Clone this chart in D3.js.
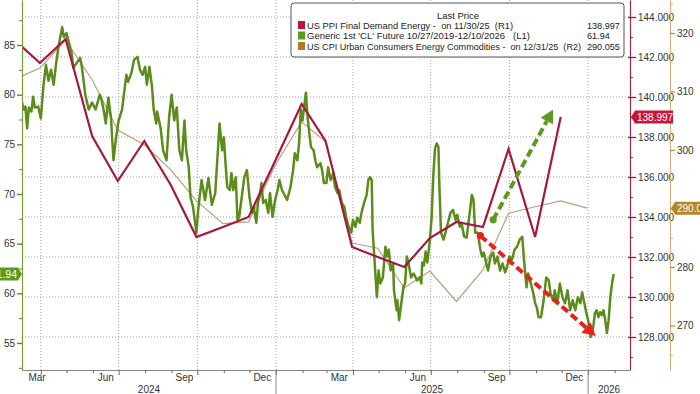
<!DOCTYPE html>
<html><head><meta charset="utf-8">
<script src="https://cdn.jsdelivr.net/npm/d3@7"></script>
<style>
body{margin:0;background:#fff;overflow:hidden}
svg{display:block;font-family:"Liberation Sans Narrow","Liberation Sans",Arial,sans-serif}
.lg text{font-family:"Liberation Sans",Arial,sans-serif}
</style></head><body>
<svg id="c" width="700" height="394"></svg>
<script>
// ---------------- DATA ----------------
const clDates = ["2024-03-10","2024-03-12","2024-03-14","2024-03-16","2024-03-18","2024-03-21","2024-03-23","2024-03-25","2024-03-29","2024-04-01",
"2024-04-04","2024-04-07","2024-04-10","2024-04-13","2024-04-16","2024-04-19","2024-04-22","2024-04-26","2024-04-28","2024-05-01",
"2024-05-04","2024-05-07","2024-05-09","2024-05-13","2024-05-17","2024-05-19","2024-05-23","2024-05-27","2024-05-31","2024-06-04",
"2024-06-09","2024-06-11","2024-06-14","2024-06-16","2024-06-19","2024-06-22","2024-06-25","2024-06-28","2024-07-01","2024-07-05",
"2024-07-10","2024-07-12","2024-07-16","2024-07-19","2024-07-23","2024-07-26","2024-07-29","2024-08-01","2024-08-03","2024-08-06",
"2024-08-09","2024-08-11","2024-08-14","2024-08-15","2024-08-19","2024-08-22","2024-08-26","2024-08-29","2024-09-01","2024-09-04",
"2024-09-07","2024-09-10","2024-09-13","2024-09-16","2024-09-18","2024-09-21","2024-09-23","2024-09-26","2024-09-30","2024-10-02",
"2024-10-06","2024-10-10","2024-10-14","2024-10-18","2024-10-22","2024-10-27","2024-10-30","2024-11-01","2024-11-03","2024-11-05",
"2024-11-08","2024-11-10","2024-11-12","2024-11-15","2024-11-17","2024-11-19","2024-11-22","2024-11-25","2024-11-28","2024-12-01",
"2024-12-04","2024-12-06","2024-12-09","2024-12-11","2024-12-13","2024-12-15","2024-12-17","2024-12-20","2024-12-23","2024-12-25",
"2024-12-28","2024-12-31","2025-01-03","2025-01-05","2025-01-08","2025-01-11","2025-01-14","2025-01-18","2025-01-21","2025-01-23",
"2025-01-26","2025-01-28","2025-01-30","2025-02-01","2025-02-03","2025-02-05","2025-02-07","2025-02-09","2025-02-11","2025-02-14",
"2025-02-16","2025-02-18","2025-02-22","2025-02-24","2025-02-26","2025-03-01","2025-03-03","2025-03-06","2025-03-09","2025-03-11",
"2025-03-14","2025-03-16","2025-03-19","2025-03-22","2025-03-24","2025-03-27","2025-03-30","2025-04-01","2025-04-04","2025-04-06",
"2025-04-09","2025-04-11","2025-04-14","2025-04-17","2025-04-19","2025-04-21","2025-04-23","2025-04-24","2025-04-27","2025-04-29",
"2025-05-01","2025-05-03","2025-05-06","2025-05-09","2025-05-11","2025-05-13","2025-05-15","2025-05-18","2025-05-19","2025-05-22",
"2025-05-23","2025-05-25","2025-05-27","2025-05-30","2025-06-01","2025-06-03","2025-06-05","2025-06-08","2025-06-11","2025-06-15",
"2025-06-18","2025-06-20","2025-06-21","2025-06-23","2025-06-25","2025-06-27","2025-06-30","2025-07-02","2025-07-04","2025-07-06",
"2025-07-08","2025-07-10","2025-07-11","2025-07-13","2025-07-16","2025-07-20","2025-07-24","2025-07-27","2025-07-30","2025-08-01",
"2025-08-04","2025-08-06","2025-08-09","2025-08-12","2025-08-15","2025-08-18","2025-08-20","2025-08-22","2025-08-25","2025-08-28",
"2025-08-30","2025-09-01","2025-09-04","2025-09-06","2025-09-09","2025-09-12","2025-09-14","2025-09-17","2025-09-20","2025-09-23",
"2025-09-26","2025-09-28","2025-10-01","2025-10-04","2025-10-07","2025-10-10","2025-10-13","2025-10-16","2025-10-18","2025-10-21",
"2025-10-23","2025-10-26","2025-10-29","2025-10-31","2025-11-02","2025-11-04","2025-11-07","2025-11-10","2025-11-13","2025-11-16",
"2025-11-18","2025-11-21","2025-11-23","2025-11-26","2025-11-29","2025-12-02","2025-12-05","2025-12-08","2025-12-11","2025-12-14",
"2025-12-17","2025-12-20","2025-12-23","2025-12-25","2025-12-27","2025-12-30","2026-01-01","2026-01-04","2026-01-07","2026-01-09",
"2026-01-11","2026-01-13","2026-01-15","2026-01-17","2026-01-19","2026-01-21","2026-01-23","2026-01-25","2026-01-27","2026-01-29",
"2026-01-31"];
const clValues = [79.2,78.5,78.8,76.6,78.7,78.3,79.8,78.7,78.8,77.6,
80.8,83.0,81.4,82.5,81.0,83.2,85.0,86.8,85.8,86.2,
85.2,84.2,82.7,83.2,83.7,82.8,80.0,78.5,79.2,78.5,
80.0,79.5,78.2,77.1,79.7,77.7,73.4,75.7,77.4,78.5,
82.0,81.3,82.2,83.5,83.8,82.5,82.0,82.8,81.0,82.8,
80.8,78.5,77.1,78.3,76.7,74.4,73.4,77.7,80.0,77.4,
78.7,74.4,73.4,77.4,74.4,72.7,69.7,68.7,66.1,68.4,
71.4,69.4,71.6,68.9,70.1,77.1,74.4,75.7,73.1,70.7,
70.4,72.1,70.4,71.7,67.4,67.7,69.7,71.7,72.4,69.7,
68.1,68.7,67.1,69.1,69.9,71.1,69.1,69.4,68.1,70.1,
67.7,69.4,70.4,71.4,70.4,69.9,69.4,70.7,72.4,74.1,
73.4,75.1,78.5,77.4,78.8,80.2,77.7,76.1,74.7,74.4,
73.4,72.7,73.1,72.4,71.1,71.1,72.7,71.4,72.1,70.7,
70.1,70.4,69.1,68.7,67.7,66.7,66.1,67.4,66.7,67.6,
67.1,68.1,69.1,69.9,71.4,71.7,71.4,66.4,62.3,59.6,
62.3,61.0,61.6,64.7,63.7,64.4,62.3,63.0,60.3,58.3,
59.3,57.3,58.6,60.6,61.0,63.7,63.0,61.6,62.0,61.3,
61.6,61.0,63.1,62.8,64.2,63.1,65.4,67.6,71.9,74.6,
75.1,74.7,71.1,66.1,65.4,66.7,68.1,68.4,67.4,67.9,
66.7,67.1,65.7,65.6,67.7,69.9,69.4,66.1,66.1,64.4,
63.7,64.1,63.0,62.3,63.7,64.1,63.0,63.7,62.3,63.0,
62.1,62.6,63.7,63.4,64.4,64.7,65.4,65.7,63.4,60.6,
62.0,61.0,60.0,59.0,58.6,57.6,57.6,59.3,61.6,61.3,
60.0,59.3,60.3,59.0,61.0,59.6,59.0,60.3,58.3,59.3,
58.3,59.6,59.0,60.1,59.3,58.0,57.3,55.6,56.6,58.0,
58.3,57.6,58.1,57.8,58.3,57.3,56.0,57.3,59.6,61.0,
61.94];

const ppiDates = ["2024-02-29","2024-03-31","2024-04-30","2024-05-31","2024-06-30","2024-07-31","2024-08-31","2024-09-30","2024-10-31","2024-11-30","2024-12-31",
"2025-01-31","2025-02-28","2025-03-31","2025-04-30","2025-05-31","2025-06-30","2025-07-31","2025-08-31","2025-09-30","2025-10-31","2025-11-30"];
const ppiValues = [142.9,141.7,142.9,138.05,135.8,137.8,135.6,133.0,133.5,134.0,136.8,
139.65,137.8,132.5,132.0,131.5,132.95,133.75,133.5,137.4,133.0,138.997];

const cpiDates = ["2024-02-29","2024-03-31","2024-04-30","2024-05-31","2024-06-30","2024-07-31","2024-08-31","2024-09-30","2024-10-31","2024-11-30","2024-12-31",
"2025-01-31","2025-02-28","2025-03-31","2025-04-30","2025-05-31","2025-06-30","2025-07-31","2025-08-31","2025-09-30","2025-10-31","2025-11-30","2025-12-31"];
const cpiValues = [312.0,314.0,318.8,312.0,303.4,300.9,296.6,291.3,287.4,287.7,297.4,
304.8,301.4,284.1,283.2,276.4,279.3,274.1,279.5,289.2,290.3,291.3,290.055];

const leftTicks = [55,60,65,70,75,80,85];
const leftMinor = [52.5,57.5,62.5,67.5,72.5,77.5,82.5,87.5];
const r1Ticks = [128,130,132,134,136,138,140,142,144];
const r1Minor = [127,129,131,133,135,137,139,141,143];
const r2Ticks = [270,280,290,300,310,320];
const r2Minor = [265,275,285,295,305,315,325];
const monthLabelDates = ["2024-03-16","2024-06-16","2024-09-16","2024-12-16","2025-03-16","2025-06-16","2025-09-16","2025-12-16"];
const monthLabels = ["Mar","Jun","Sep","Dec","Mar","Jun","Sep","Dec"];
const yearLabels = ["2024","2025","2026"];

const legendTitle = "Last Price";
const legendNames = ["US PPI Final Demand Energy -  on 11/30/25  (R1)",
  "Generic 1st 'CL' Future 10/27/2019-12/10/2026   (L1)",
  "US CPI Urban Consumers Energy Commodities -  on 12/31/25  (R2)"];
const legendValues = ["138.997","61.94","290.055"];

// arrows (date, CL-scale value)
const greenArrow = [["2025-09-12",67.4],["2025-11-21",78.5]];
const redArrow = [["2025-08-28",65.8],["2026-01-10",55.7]];

// ---------------- SETUP ----------------
const parse = d3.utcParse("%Y-%m-%d");
const W = 700, H = 394;
const L = 22, R = 630, T = 0, B = 370, R2X = 670;
const col = {green:"#5b8c1c", red:"#a3193f", tan:"#b9a17a", gArrow:"#5e9a1f", rArrow:"#e3231e",
  grid:"#a0a0a0", text:"#333", leftAxis:"#7a9a3a", r1Axis:"#8e2a4a", r2Axis:"#cdb384"};

const x = d3.scaleUtc().domain([parse("2024-03-10"), parse("2026-02-19")]).range([L, R]);
const yL = d3.scaleLinear().domain([52.28, 89.53]).range([B, T]);
const yR1 = d3.scaleLinear().domain([126.35, 144.85]).range([B, T]);
const yR2 = d3.scaleLinear().domain([262.39, 325.64]).range([B, T]);

const svg = d3.select("#c");
svg.append("rect").attr("width", W).attr("height", H).attr("fill", "#fff");

svg.append("defs").append("clipPath").attr("id","plot")
  .append("rect").attr("x", L).attr("y", T).attr("width", R - L).attr("height", B - T);

// gridlines
const grid = svg.append("g");
grid.selectAll("line.h").data(r1Ticks).join("line")
  .attr("x1", L).attr("x2", R).attr("y1", d => yR1(d)).attr("y2", d => yR1(d))
  .attr("stroke", col.grid).attr("stroke-dasharray","1,2").attr("stroke-width",1);
const quarters = d3.utcMonth.every(3).range(x.domain()[0], x.domain()[1]);
grid.selectAll("line.v").data(quarters).join("line")
  .attr("x1", d => x(d)).attr("x2", d => x(d)).attr("y1", T).attr("y2", B)
  .attr("stroke", col.grid).attr("stroke-dasharray","1,2").attr("stroke-width",1);

// series
const plot = svg.append("g").attr("clip-path","url(#plot)");
const cl = clDates.map((d,i) => ({d: parse(d), v: clValues[i]}));
const ppi = ppiDates.map((d,i) => ({d: parse(d), v: ppiValues[i]}));
const cpi = cpiDates.map((d,i) => ({d: parse(d), v: cpiValues[i]}));

plot.append("path").datum(cpi)
  .attr("d", d3.line().x(p => x(p.d)).y(p => yR2(p.v)))
  .attr("fill","none").attr("stroke", col.tan).attr("stroke-width",1.2);
plot.append("path").datum(cl)
  .attr("d", d3.line().x(p => x(p.d)).y(p => yL(p.v)))
  .attr("fill","none").attr("stroke", col.green).attr("stroke-width",2.5).attr("stroke-linejoin","round");
plot.append("path").datum(ppi)
  .attr("d", d3.line().x(p => x(p.d)).y(p => yR1(p.v)))
  .attr("fill","none").attr("stroke", col.red).attr("stroke-width",2.2).attr("stroke-linejoin","miter");

// arrows
function arrow(spec, color) {
  const x0 = x(parse(spec[0][0])), y0 = yL(spec[0][1]);
  const x1 = x(parse(spec[1][0])), y1 = yL(spec[1][1]);
  const ang = Math.atan2(y1 - y0, x1 - x0);
  const len = 13, hw = 7;
  const bx = x1 - len * Math.cos(ang), by = y1 - len * Math.sin(ang);
  const g = svg.append("g");
  g.append("line").attr("x1", x0).attr("y1", y0).attr("x2", bx).attr("y2", by)
    .attr("stroke", color).attr("stroke-width", 4).attr("stroke-dasharray","8,4");
  g.append("circle").attr("cx", x0).attr("cy", y0).attr("r", 3.6).attr("fill", color);
  const px = -Math.sin(ang), py = Math.cos(ang);
  g.append("path").attr("d", `M${x1},${y1}L${bx + px*hw},${by + py*hw}L${bx - px*hw},${by - py*hw}Z`)
    .attr("fill", color);
}
arrow(greenArrow, col.gArrow);
arrow(redArrow, col.rArrow);

// axes
function styleAxis(g, stroke) {
  g.select(".domain").attr("stroke", stroke).attr("stroke-width",1.2);
  g.selectAll(".tick line").attr("stroke", stroke);
  g.selectAll(".tick text").attr("fill", col.text).attr("font-size", 10);
}
const gL = svg.append("g").attr("transform",`translate(${L},0)`)
  .call(d3.axisLeft(yL).tickValues(leftTicks).tickSize(5).tickSizeOuter(0).tickPadding(2).tickFormat(d3.format("d")));
styleAxis(gL, col.leftAxis);
gL.selectAll(".tick line").attr("stroke", col.green).attr("stroke-width",1.4);
const gLm = svg.append("g").attr("transform",`translate(${L},0)`)
  .call(d3.axisLeft(yL).tickValues(leftMinor).tickSize(3).tickSizeOuter(0).tickFormat(""));
gLm.select(".domain").remove();
gLm.selectAll(".tick line").attr("stroke", col.green);

const gR1 = svg.append("g").attr("transform",`translate(${R},0)`)
  .call(d3.axisRight(yR1).tickValues(r1Ticks).tickSize(6).tickSizeOuter(0).tickPadding(2).tickFormat(d3.format(".3f")));
styleAxis(gR1, col.r1Axis);
gR1.selectAll(".tick line").attr("x1", -2).attr("stroke", col.red).attr("stroke-width",1.4);
const gR1m = svg.append("g").attr("transform",`translate(${R},0)`)
  .call(d3.axisRight(yR1).tickValues(r1Minor).tickSize(3).tickSizeOuter(0).tickFormat(""));
gR1m.select(".domain").remove();
gR1m.selectAll(".tick line").attr("stroke", col.r1Axis);

const lastCpi = cpiValues[cpiValues.length-1];
const gR2 = svg.append("g").attr("transform",`translate(${R2X},0)`)
  .call(d3.axisRight(yR2).tickValues(r2Ticks).tickSize(5).tickSizeOuter(0).tickPadding(2).tickFormat(d3.format("d")));
styleAxis(gR2, col.r2Axis);
gR2.selectAll(".tick line").attr("stroke", "#b8943f").attr("stroke-width",1.3);
// the label hidden behind the last-value tag
gR2.selectAll(".tick text").filter(d => Math.abs(yR2(d) - yR2(lastCpi)) < 9).remove();
const gR2m = svg.append("g").attr("transform",`translate(${R2X},0)`)
  .call(d3.axisRight(yR2).tickValues(r2Minor).tickSize(3).tickSizeOuter(0).tickFormat(""));
gR2m.select(".domain").remove();
gR2m.selectAll(".tick line").attr("stroke", col.r2Axis);

// bottom axis
const months = d3.utcMonth.range(x.domain()[0], x.domain()[1]);
const gB = svg.append("g").attr("transform",`translate(0,${B})`)
  .call(d3.axisBottom(x).tickValues(months).tickSize(3).tickSizeOuter(0).tickFormat(""));
gB.select(".domain").attr("stroke","#888").attr("d", `M${L},0.5H${R}`);
gB.selectAll(".tick line").attr("stroke","#666")
  .attr("y2", d => (d.getUTCMonth() % 3 === 0) ? 5 : 3);

svg.append("g").selectAll("text").data(monthLabelDates).join("text")
  .attr("x", d => Math.max(x(parse(d)), L + 15))
  .attr("y", 381).attr("text-anchor","middle").attr("font-size",10).attr("fill",col.text)
  .text((d,i) => monthLabels[i]);

const yrs = yearLabels.map(y => {
  const a = Math.max(x(parse(y + "-01-01")), L);
  const b = Math.min(x(parse((+y + 1) + "-01-01")), R);
  return {y, c: (a + b) / 2};
});
svg.append("g").selectAll("text").data(yrs).join("text")
  .attr("x", d => d.c).attr("y", 393).attr("text-anchor","middle").attr("font-size",10).attr("fill",col.text)
  .text(d => d.y);
svg.append("g").selectAll("line").data(yearLabels.slice(1)).join("line")
  .attr("x1", d => x(parse(d + "-01-01"))).attr("x2", d => x(parse(d + "-01-01")))
  .attr("y1", B).attr("y2", H).attr("stroke","#888");

// value tags
function tagLeft(v, txt, fill) {
  const yy = yL(v), h = 13;
  svg.append("path").attr("d", `M-10,${yy-h/2}H18L${L},${yy}L18,${yy+h/2}H-10Z`).attr("fill", fill);
  svg.append("text").attr("x", 17).attr("y", yy + 3.5).attr("text-anchor","end")
    .attr("font-size",10.5).attr("fill","#fff").text(txt);
}
function tagRight(xx, yy, txt, fill) {
  const h = 13;
  svg.append("path").attr("d", `M${xx},${yy}L${xx+4},${yy-h/2}H${xx+42}V${yy+h/2}H${xx+4}Z`).attr("fill", fill);
  svg.append("text").attr("x", xx + 6).attr("y", yy + 3.5)
    .attr("font-size",10).attr("fill","#fff").text(txt);
}
tagLeft(clValues[clValues.length-1], legendValues[1], "#5d9a1c");
tagRight(R + 1, yR1(ppiValues[ppiValues.length-1]), legendValues[0], "#c8163a");
tagRight(R2X + 1, yR2(lastCpi), legendValues[2], "#b5862c");

// legend
const lg = svg.append("g").attr("class","lg");
lg.append("rect").attr("x", 291).attr("y", 3).attr("width", 333).attr("height", 54).attr("rx", 3)
  .attr("fill","#fff").attr("stroke","#555").attr("stroke-width",1);
lg.append("text").attr("x", 458).attr("y", 18.5).attr("text-anchor","middle")
  .attr("font-size",9.5).attr("fill","#222").text(legendTitle);
const lgCols = ["#b8173a","#5a9a1e","#b07b1c"];
const lgWidths = [206, 223, 274];
legendNames.forEach((n, i) => {
  const yy = 28.5 + i * 10.5;
  lg.append("rect").attr("x", 298).attr("y", yy - 7.5).attr("width", 7).attr("height", 8).attr("fill", lgCols[i]);
  lg.append("text").attr("x", 307).attr("y", yy).attr("font-size",9.3).attr("fill","#222")
    .attr("textLength", lgWidths[i]).attr("lengthAdjust","spacingAndGlyphs")
    .style("white-space","pre").text(n);
  lg.append("text").attr("x", 587).attr("y", yy).attr("font-size",9.1).attr("fill","#222").text(legendValues[i]);
});
</script></body></html>
